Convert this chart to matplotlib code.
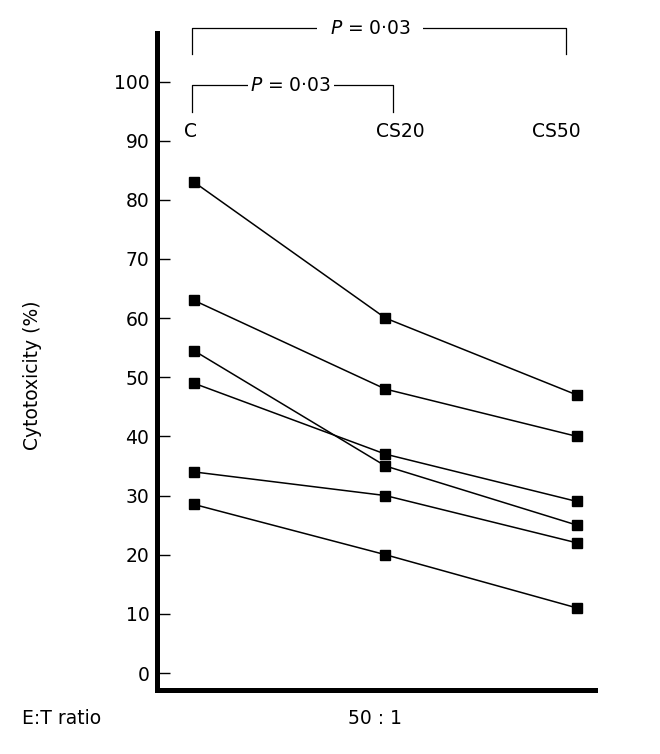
import numpy as np
import matplotlib
matplotlib.use("Agg")
import matplotlib.pyplot as plt

plt.rcParams['font.family'] = ['DejaVu Sans']
plt.rcParams['mathtext.fontset'] = 'dejavusans'

# data
groups = ['C', 'CS20', 'CS50']
donor_1 = [83, 60, 47]
donor_2 = [63, 48, 40]
donor_3 = [54.5, 35, 25]
donor_4 = [49, 37, 29]
donor_5 = [34, 30, 22]
donor_6 = [28.5, 20, 11]
yticks = list(range(0, 101, 10))
p_text = '$P$ = 0·03'
ratio_text = '50 : 1'

FS = 13.5

fig = plt.figure(figsize=(6.6, 7.54), dpi=100)
ax = fig.add_axes([157 / 660, 1 - 690 / 754, (595 - 157) / 660, (690 - 33) / 754])

x = np.arange(len(groups))
for series in [donor_1, donor_2, donor_3, donor_4, donor_5, donor_6]:
    ax.plot(x, series, color='black', lw=1.1, marker='s', ms=6.5,
            mfc='black', mec='black')

ax.set_xlim(-0.193, 2.094)
ax.set_ylim(-2.87, 108.2)
ax.set_xticks([])
ax.set_yticks(yticks)
ax.tick_params(axis='y', direction='in', length=9, width=1, pad=5.5,
               labelsize=FS)
for side in ['top', 'right']:
    ax.spines[side].set_visible(False)
for side in ['left', 'bottom']:
    ax.spines[side].set_linewidth(3.6)

# group labels inside the plot
label_dx = [-0.02, 0.08, -0.11]
for i, g in enumerate(groups):
    ax.text(x[i] + label_dx[i], 91.5, g, ha='center', va='center', fontsize=FS)

# significance brackets
ax.plot([-0.01, -0.01, 1.04, 1.04], [94.9, 99.4, 99.4, 94.9],
        color='black', lw=0.9, clip_on=False)
ax.text(0.507, 99.4, p_text, ha='center', va='center', fontsize=FS,
        bbox=dict(facecolor='white', edgecolor='none', pad=2))
ax.plot([-0.01, -0.01, 1.94, 1.94], [104.6, 109.0, 109.0, 104.6],
        color='black', lw=0.9, clip_on=False)
ax.text(0.92, 109.0, p_text, ha='center', va='center', fontsize=FS,
        bbox=dict(facecolor='white', edgecolor='none', pad=9), clip_on=False)

fig.text(33 / 660, 1 - 375 / 754, 'Cytotoxicity (%)', rotation=90,
         ha='center', va='center', fontsize=FS)
fig.text(22 / 660, 1 - 718 / 754, 'E:T ratio', ha='left', va='center', fontsize=FS)
fig.text(375 / 660, 1 - 719 / 754, ratio_text, ha='center', va='center', fontsize=FS)

fig.savefig('out.png', dpi=100)
